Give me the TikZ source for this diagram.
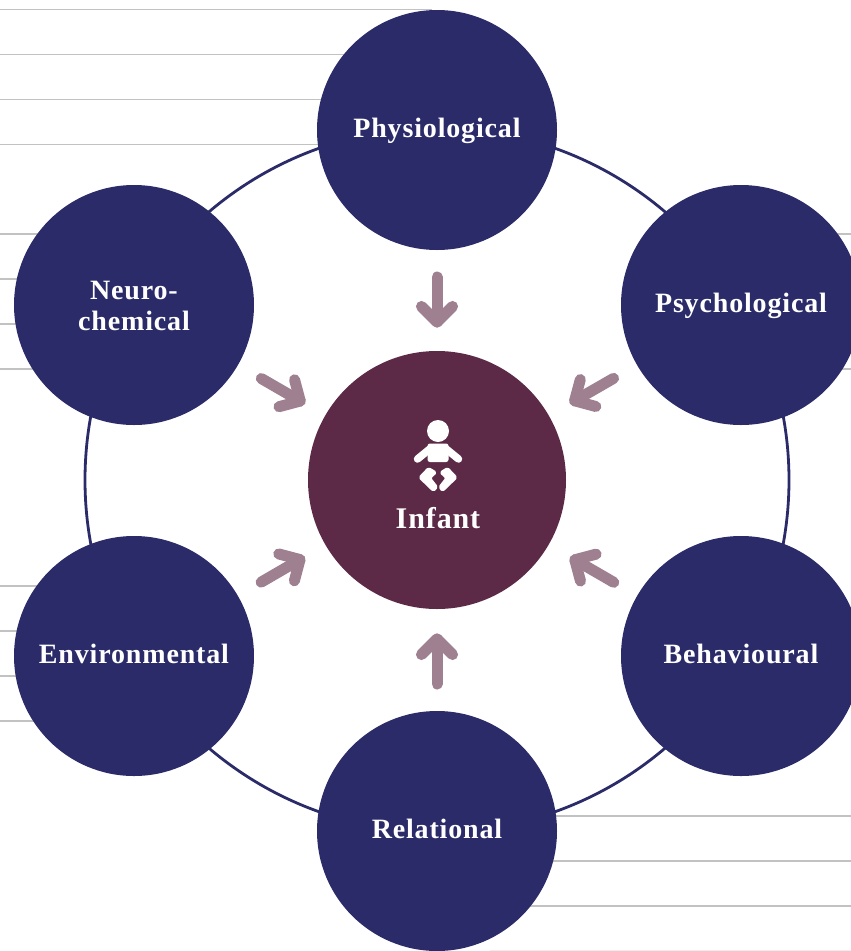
\documentclass[tikz,border=0pt]{standalone}
\usepackage{fontspec}
\setmainfont{Liberation Serif}[LetterSpace=3]
\usetikzlibrary{calc}
\definecolor{navy}{HTML}{2B2B69}
\definecolor{plum}{HTML}{5C2A47}
\definecolor{mauve}{HTML}{9F8091}
\definecolor{rule}{HTML}{C2C2C2}
\tikzset{
  factor/.style={circle,fill=navy,minimum size=240pt,inner sep=0pt,text=white,align=center,
    font=\bfseries\fontsize{28}{31}\selectfont,text height=14pt,text depth=0pt},
  centrecircle/.style={circle,fill=plum,minimum size=258pt,inner sep=0pt},
  infantlabel/.style={text=white,inner sep=0pt,anchor=base,font=\bfseries\fontsize{30}{31}\selectfont},
  ringline/.style={circle,draw=navy,line width=2.8pt,minimum size=704pt,inner sep=0pt},
  ruleline/.style={draw=rule,line width=1.7pt},
  influence/.style={draw=mauve,line width=11pt,line cap=round,line join=round},
  babyshape/.style={fill=white,draw=white,line join=round}
}
\newcommand{\influencearrow}[2]{%
  \draw[influence] ($(#1)!147pt!(#2)$) -- ($(#1)!192pt!(#2)$);
  \draw[influence] ($($(#1)!192pt!(#2)$)!22pt!45:(#1)$) -- ($(#1)!192pt!(#2)$) -- ($($(#1)!192pt!(#2)$)!22pt!-45:(#1)$);
}
\begin{document}
\begin{tikzpicture}[x=1pt,y=-1pt]
\useasboundingbox (0,0) rectangle (851,951);
% background rules
\foreach \yy in {54.5,99.5,144.5} \draw[ruleline] (0,\yy) -- (420,\yy);
\draw[ruleline] (0,9.5) -- (432,9.5);
\foreach \yy in {234,279,324,369} \draw[ruleline] (0,\yy) -- (120,\yy);
\foreach \yy in {234,369} \draw[ruleline] (760,\yy) -- (851,\yy);
\foreach \yy in {586,631,676,721} \draw[ruleline] (0,\yy) -- (120,\yy);
\foreach \yy in {816,861,906} \draw[ruleline] (480,\yy) -- (851,\yy);
\draw[draw=black!7,line width=1pt] (490,950.4) -- (851,950.4);
% ring
\node[ringline] (ring) at (437,480) {};
% circles
\node[factor] (phys) at (437,130) {Physiological};
\node[factor] (psych) at (741,305) {Psychological};
\node[factor] (behav) at (741,656) {Behavioural};
\node[factor] (rel) at (437,831) {Relational};
\node[factor] (env) at (134,656) {Environmental};
\node[factor,text height=50pt] (neuro) at (134,305) {Neuro-\\chemical};
\node[centrecircle] (infant) at (437,480) {};
\node[infantlabel] (infanttext) at (438,528) {Infant};
% arrows
\influencearrow{phys}{infant}
\influencearrow{psych}{infant}
\influencearrow{behav}{infant}
\influencearrow{rel}{infant}
\influencearrow{env}{infant}
\influencearrow{neuro}{infant}
% baby icon
\fill[white] (438,431) circle (11);
\draw[babyshape,line width=1pt,rounded corners=2pt] (428,444) -- (448,444) -- (448,461.5) -- (428,461.5) -- cycle;
\draw[white,line width=7.5pt,line cap=round] (431,448) -- (417.5,459);
\draw[white,line width=7.5pt,line cap=round] (445,448) -- (458.5,459);
\draw[babyshape,line width=2pt,rounded corners=1.5pt] (428.5,468) -- (419.5,477.5) -- (433.5,491) -- (437,487) -- (430,478) -- (436,472.5) -- cycle;
\draw[babyshape,line width=2pt,rounded corners=1.5pt] (447.5,468) -- (456.5,477.5) -- (442.5,491) -- (439.5,487) -- (446.5,478) -- (440.5,472.5) -- cycle;
\end{tikzpicture}
\end{document}
